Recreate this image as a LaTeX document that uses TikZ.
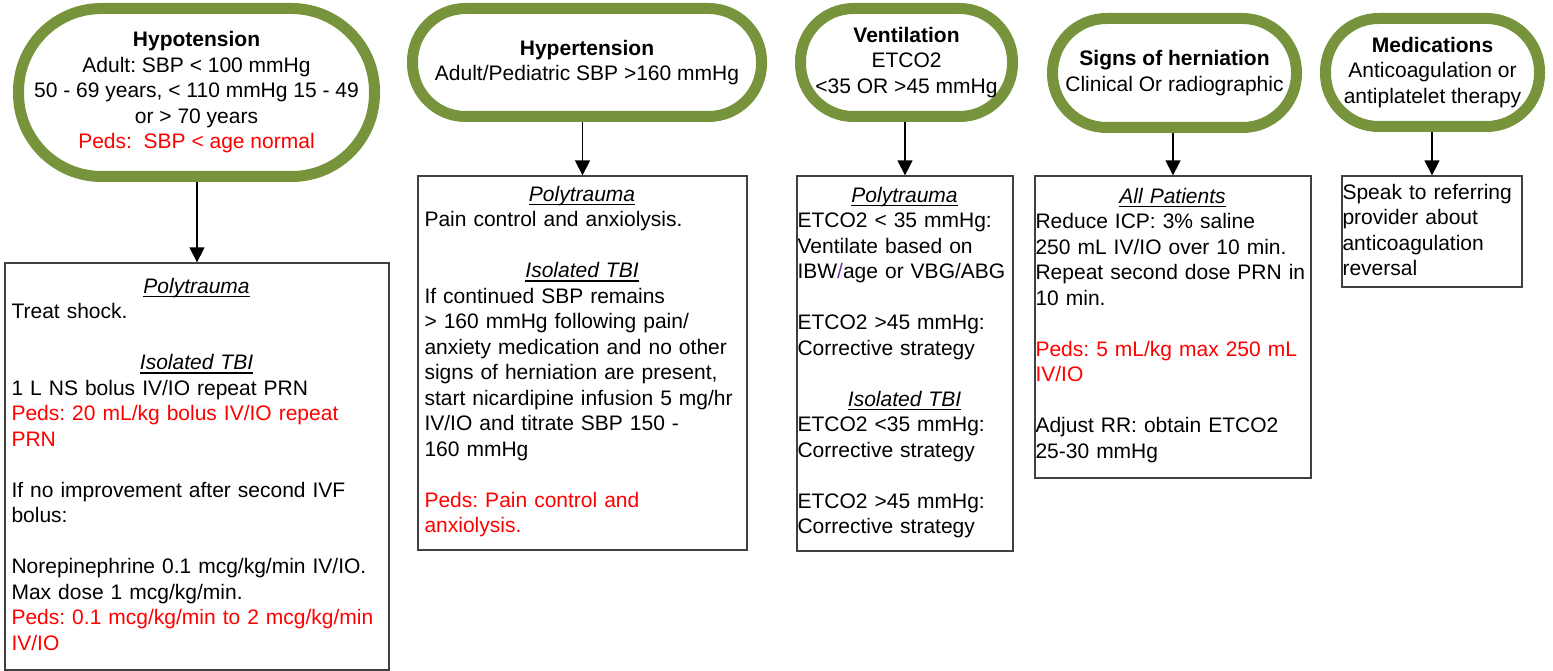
\documentclass[tikz,border=0pt]{standalone}
\usepackage{fontspec}
\setmainfont{Liberation Sans}
\usetikzlibrary{arrows.meta}

\definecolor{termgreen}{HTML}{77933C}
\definecolor{pedsred}{HTML}{FF0000}
\definecolor{slashpurple}{HTML}{7030A0}

% room kept free at the right of each text block
\newlength{\slack}
\setlength{\slack}{30pt}
\newcommand{\boxhead}[1]{\makebox[\dimexpr\linewidth-\slack\relax][c]{\sbox0{\itshape #1}\rlap{\rule[-4pt]{\wd0}{1.4pt}}\usebox0}}
\newcommand{\peds}[1]{\textcolor{pedsred}{#1}}
\frenchspacing

\begin{document}
\begin{tikzpicture}[x=1pt, y=-1pt,
    every node/.style={font=\fontsize{21}{25.5}\selectfont},
    cond/.style={draw=termgreen, line width=11pt, rectangle, inner sep=0pt, align=center},
    card/.style={draw=black!75, line width=1.3pt, inner sep=0pt},
    body/.style={anchor=base west, inner sep=0pt, align=left},
    arr/.style={-{Triangle[width=15pt,length=15pt]}, line width=1.4pt}]

\useasboundingbox (0,0) rectangle (1553,671);

% conditions
\node[cond, minimum width=356pt, minimum height=168pt, rounded corners=83pt] (hypo) at (196.5,92.5)
  {\textbf{Hypotension}\\Adult: SBP < 100 mmHg\\50 - 69 years, < 110 mmHg 15 - 49\\or > 70 years\\\peds{Peds: \ SBP < age normal}};
\node[cond, minimum width=349pt, minimum height=108pt, rounded corners=53pt] (hyper) at (587,62.5)
  {\textbf{Hypertension}\\Adult/Pediatric SBP >160 mmHg};
\node[cond, minimum width=212pt, minimum height=108pt, rounded corners=53pt] (vent) at (906.5,62.5)
  {\textbf{Ventilation}\\ETCO2\\<35 OR >45 mmHg};
\node[cond, minimum width=244pt, minimum height=109pt, rounded corners=54pt] (hern) at (1174.5,73)
  {\textbf{Signs of herniation}\\Clinical Or radiographic};
\node[cond, minimum width=214pt, minimum height=108pt, rounded corners=53pt] (med) at (1432.5,72.5)
  {\textbf{Medications}\\Anticoagulation or\\antiplatelet therapy};

% boxes
\node[card, minimum width=384pt, minimum height=407pt] (hypobox) at (197,466.5) {};
\node[card, minimum width=329pt, minimum height=374pt] (hyperbox) at (582.5,363) {};
\node[card, minimum width=216pt, minimum height=375pt] (ventbox) at (905,363.5) {};
\node[card, minimum width=276pt, minimum height=302pt] (hernbox) at (1173,327) {};
\node[card, minimum width=180pt, minimum height=111pt] (medbox) at (1432,231.5) {};

% texts in the boxes
\node[body, text width=400pt] (hypotxt) at ([xshift=7pt, yshift=-31pt]hypobox.north west)
  {\boxhead{Polytrauma}\\
   Treat shock.\\[\baselineskip]
   \boxhead{Isolated TBI}\\
   1 L NS bolus IV/IO repeat PRN\\
   \peds{Peds: 20 mL/kg bolus IV/IO repeat}\\
   \peds{PRN}\\[\baselineskip]
   If no improvement after second IVF\\
   bolus:\\[\baselineskip]
   Norepinephrine 0.1 mcg/kg/min IV/IO.\\
   Max dose 1 mcg/kg/min.\\
   \peds{Peds: 0.1 mcg/kg/min to 2 mcg/kg/min}\\
   \peds{IV/IO}};
\node[body, text width=345pt] (hypertxt) at ([xshift=7pt, yshift=-26pt]hyperbox.north west)
  {\boxhead{Polytrauma}\\
   Pain control and anxiolysis.\\[\baselineskip]
   \boxhead{Isolated TBI}\\
   If continued SBP remains\\
   > 160 mmHg following pain/\\
   anxiety medication and no other\\
   signs of herniation are present,\\
   start nicardipine infusion 5 mg/hr\\
   IV/IO and titrate SBP 150 -\\
   160 mmHg\\[\baselineskip]
   \peds{Peds: Pain control and}\\
   \peds{anxiolysis.}};
\node[body, text width=244pt] (venttxt) at ([xshift=1pt, yshift=-27pt]ventbox.north west)
  {\boxhead{Polytrauma}\\
   ETCO2 < 35 mmHg:\\
   Ventilate based on\\
   IBW\textcolor{slashpurple}{/}age or VBG/ABG\\[\baselineskip]
   ETCO2 >45 mmHg:\\
   Corrective strategy\\[\baselineskip]
   \boxhead{Isolated TBI}\\
   ETCO2 <35 mmHg:\\
   Corrective strategy\\[\baselineskip]
   ETCO2 >45 mmHg:\\
   Corrective strategy};
\node[body, text width=304pt] (herntxt) at ([xshift=1pt, yshift=-28pt]hernbox.north west)
  {\boxhead{All Patients}\\
   Reduce ICP: 3\% saline\\
   250 mL IV/IO over 10 min.\\
   Repeat second dose PRN in\\
   10 min.\\[\baselineskip]
   \peds{Peds: 5 mL/kg max 250 mL}\\
   \peds{IV/IO}\\[\baselineskip]
   Adjust RR: obtain ETCO2\\
   25-30 mmHg};
\node[body, text width=208pt] (medtxt) at ([xshift=1pt, yshift=-24pt]medbox.north west)
  {Speak to referring\\provider about\\anticoagulation\\reversal};

% arrows
\draw[arr] (hypo.south -| hypobox.north) -- (hypobox.north);
\draw[arr] (hyper.south -| hyperbox.north) -- (hyperbox.north);
\draw[arr] (vent.south -| ventbox.north) -- (ventbox.north);
\draw[arr] (hern.south -| hernbox.north) -- (hernbox.north);
\draw[arr] (med.south -| medbox.north) -- (medbox.north);
\end{tikzpicture}
\end{document}
